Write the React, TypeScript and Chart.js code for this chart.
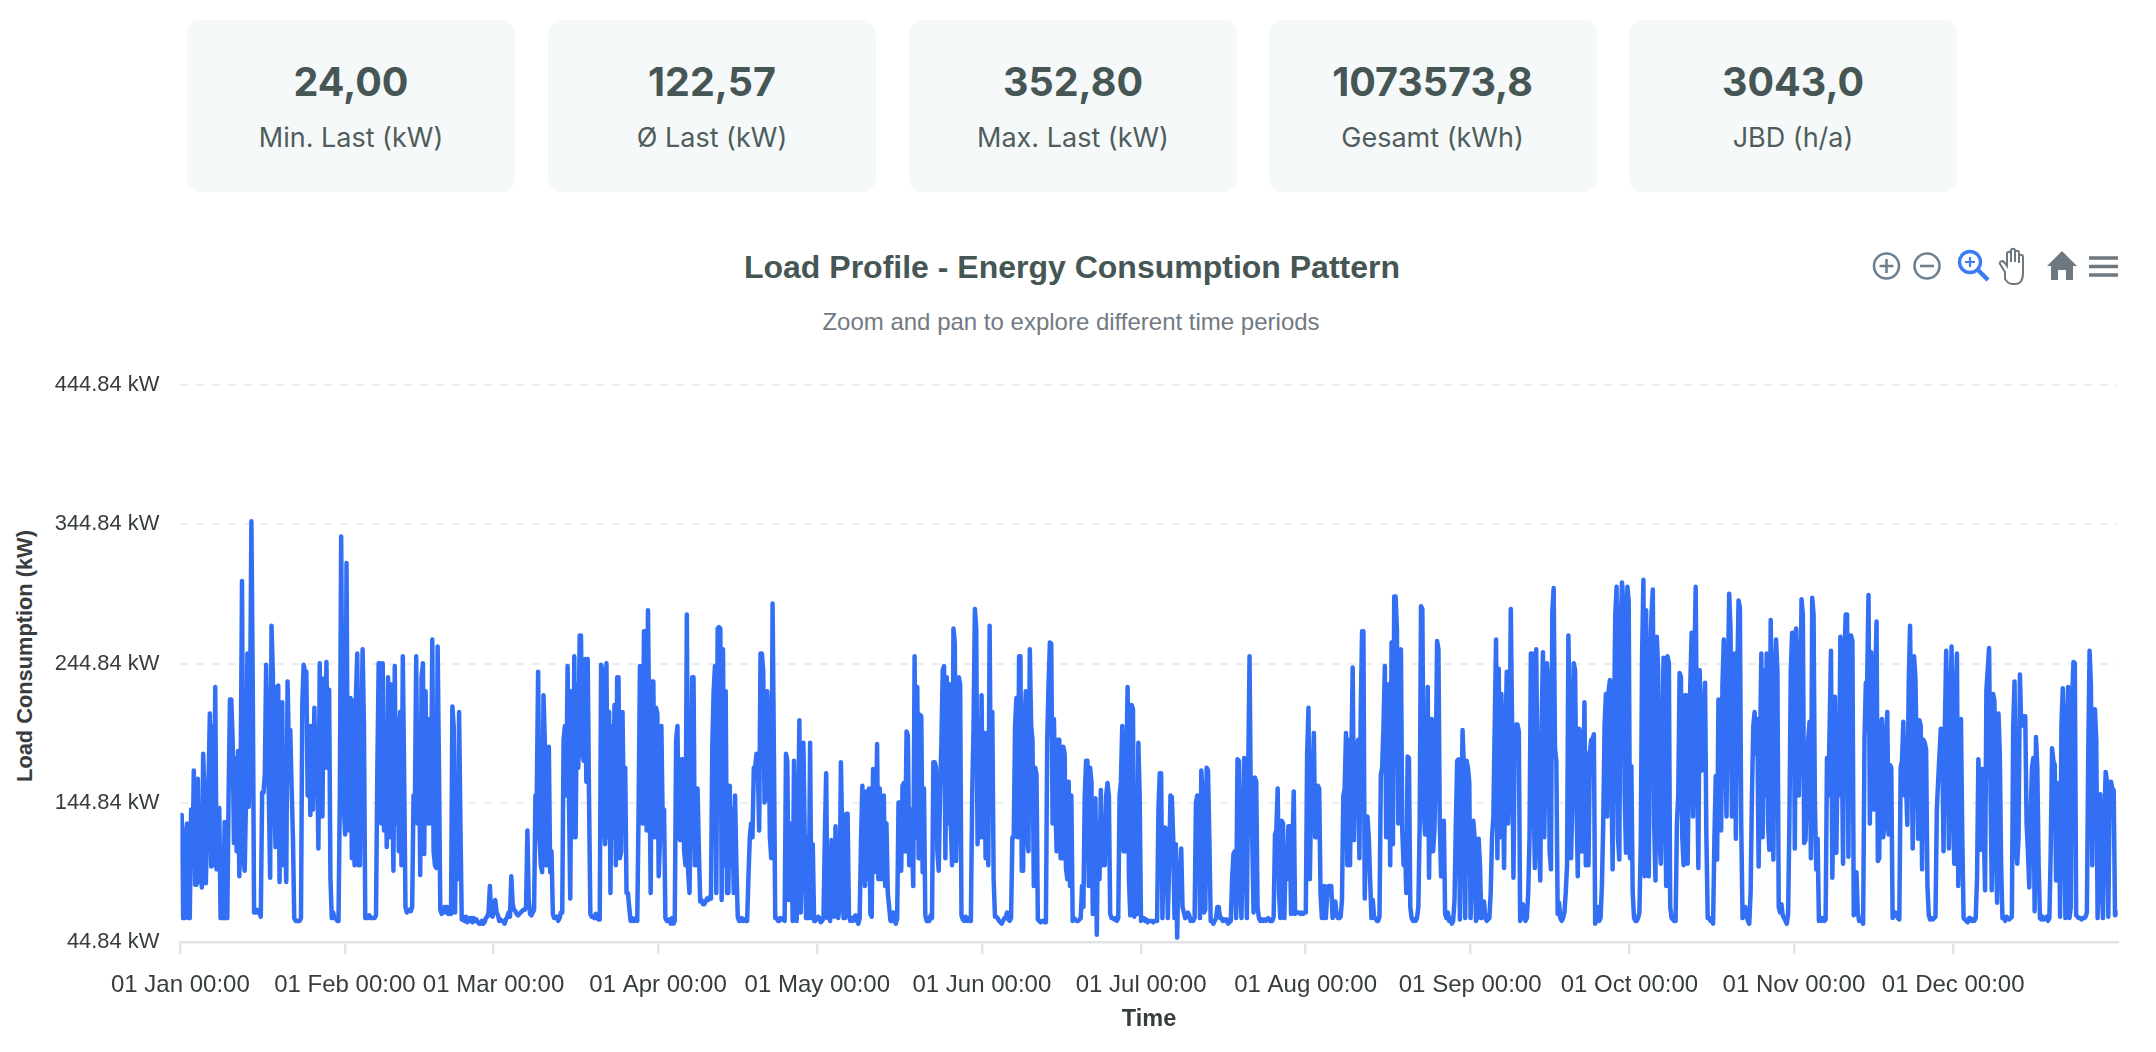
import React, { useEffect, useRef } from "react";
import { Chart, registerables } from "chart.js";

Chart.register(...registerables);

const kpiValues = ["24,00", "122,57", "352,80", "1073573,8", "3043,0"];
const kpiLabels = ["Min. Last (kW)", "Ø Last (kW)", "Max. Last (kW)", "Gesamt (kWh)", "JBD (h/a)"];

const yTickValues = [44.84, 144.84, 244.84, 344.84, 444.84];
const monthStartDays = [0, 31, 59, 90, 120, 151, 181, 212, 243, 273, 304, 334];
const monthLabels = ["01 Jan 00:00", "01 Feb 00:00", "01 Mar 00:00", "01 Apr 00:00", "01 May 00:00", "01 Jun 00:00", "01 Jul 00:00", "01 Aug 00:00", "01 Sep 00:00", "01 Oct 00:00", "01 Nov 00:00", "01 Dec 00:00"];

const week00 = [118,136,62,62,122,130,62,62,140,100,168,86,86,162,88,139,84,180,150,87,130,160,209,99,200,100,228,97];
const week01 = [97,141,62,62,62,131,62,62,152,219,219,190,116,177,110,182,92,170,304,104,96,150,252,142,214,347,230,66];
const week02 = [66,68,66,66,63,152,152,165,244,190,150,91,272,238,150,113,228,229,88,190,217,100,130,88,232,180,197,156];
const week03 = [120,62,60,60,60,60,62,217,244,239,239,150,200,136,200,140,213,152,190,112,245,140,135,234,170,246,170,226];
const week04 = [90,62,66,62,62,60,60,150,336,180,140,122,317,130,125,220,105,218,100,220,252,100,100,190,255,200,62,62];
const week05 = [62,64,62,62,62,62,64,170,245,245,130,245,125,200,113,235,120,230,170,96,243,130,205,110,210,100,250,165];
const week06 = [70,66,67,68,67,70,150,140,250,130,200,93,235,245,108,225,140,130,205,130,262,110,100,98,257,170,68,65];
const week07 = [67,70,66,70,65,68,65,214,200,66,150,90,210,130,61,61,60,63,59,62,60,62,59,62,60,61,59,58];
const week08 = [58,60,58,59,62,63,66,85,64,63,70,75,66,64,60,61,60,60,58,61,63,66,63,92,72,68,67,65];
const week09 = [64,65,66,67,68,68,70,125,75,65,64,66,68,150,150,239,120,100,95,222,190,100,100,185,95,110,65,62];
const week10 = [62,63,60,62,66,66,190,200,150,243,150,76,225,120,250,120,230,170,265,265,180,175,248,160,248,150,65,63];
const week11 = [63,62,65,62,61,61,244,240,130,115,245,120,210,80,200,120,215,100,235,235,105,110,210,130,170,80,80,70];
const week12 = [60,62,60,60,62,60,140,243,160,130,268,268,125,283,190,80,232,232,120,213,209,92,120,200,130,140,62,60];
const week13 = [60,61,58,62,58,60,190,200,120,118,176,176,110,100,280,95,80,145,235,235,100,100,155,110,74,75,72,72];
const week14 = [74,76,75,77,76,185,225,243,80,270,271,270,75,255,100,225,80,80,157,100,140,80,150,100,63,60,60,62];
const week15 = [60,61,60,60,92,120,130,120,170,170,180,170,125,252,252,240,145,150,225,200,120,105,288,180,62,62,60,60];
const week16 = [62,61,62,60,180,175,75,120,130,60,175,110,60,120,204,66,120,188,120,62,120,62,188,62,115,60,60,62];
const week17 = [63,62,59,60,62,120,166,62,108,60,118,100,63,128,75,62,70,174,120,62,62,137,137,64,60,62,60,63];
const week18 = [64,60,58,62,116,157,110,85,153,90,155,65,63,169,95,110,187,90,155,90,90,150,85,130,80,70,60,60];
const week19 = [66,60,58,62,145,145,96,157,159,110,196,193,100,140,120,85,250,120,228,105,208,207,95,155,64,60,60,60];
const week20 = [64,62,174,174,170,110,96,150,187,240,243,105,235,130,230,130,100,270,260,103,150,235,230,64,61,60,63,60];
const week21 = [62,60,60,150,200,284,270,115,205,120,222,120,195,105,195,100,272,140,210,90,63,63,62,60,59,58,60,62];
const week22 = [62,66,61,60,62,120,120,200,220,120,250,250,96,96,200,225,120,110,255,200,190,85,170,165,61,60,59,60];
const week23 = [60,59,59,190,230,260,259,130,205,150,110,190,190,105,105,185,180,98,90,160,85,150,60,62,61,60,60,61];
const week24 = [62,85,70,150,175,175,85,170,160,65,147,148,50,130,90,154,100,110,100,150,159,150,65,62,62,61,62,60];
const week25 = [62,150,160,200,110,110,170,228,90,64,215,212,63,115,65,188,150,60,62,62,60,61,59,60,60,60,59,60];
const week26 = [60,60,140,166,166,62,120,127,125,62,100,150,149,120,62,115,48,100,90,112,70,66,62,63,66,64,60,61];
const week27 = [60,62,145,150,145,62,168,150,66,68,170,168,120,60,60,58,60,62,70,70,62,62,60,61,60,61,58,59];
const week28 = [60,90,108,110,62,176,175,80,62,120,177,125,62,165,250,140,120,66,163,160,70,62,60,61,60,61,60,61];
const week29 = [62,60,60,60,63,122,125,155,80,62,132,130,62,110,90,128,128,65,110,153,65,66,66,66,65,66,65,66];
const week30 = [66,180,213,90,150,155,195,120,120,157,155,80,62,62,85,62,80,85,85,85,62,74,74,64,62,62,63,75];
const week31 = [150,155,195,100,190,100,180,242,118,185,185,190,105,210,268,268,76,130,135,120,90,62,75,62,62,60,60,63];
const week32 = [165,170,200,243,120,200,230,100,260,115,293,293,270,130,250,255,125,100,120,80,178,177,70,62,60,61,60,62];
const week33 = [70,130,286,284,140,122,122,228,91,170,205,110,125,170,261,255,130,92,92,132,65,62,66,60,62,58,60,75];
const week34 = [130,175,176,61,120,197,170,62,175,170,160,62,100,132,120,60,62,119,100,62,63,74,62,60,61,62,80,120];
const week35 = [135,200,262,105,241,120,223,160,98,190,239,130,170,284,200,91,200,201,201,196,60,65,72,62,60,62,80,120];
const week36 = [252,252,150,98,255,150,120,89,200,253,120,185,245,230,110,97,282,299,184,175,65,73,62,60,62,66,80,100];
const week37 = [265,200,105,150,245,240,150,92,198,195,110,150,217,100,180,100,180,190,190,194,58,62,70,60,62,85,130,200];
const week38 = [223,135,225,233,180,97,200,280,300,120,104,270,303,288,150,109,300,290,105,171,80,62,60,60,62,66,115,250];
const week39 = [305,92,283,200,92,240,280,298,130,89,264,240,120,101,180,249,160,85,250,245,70,62,61,60,60,130,150,238];
const week40 = [235,120,100,222,222,101,178,230,267,135,240,300,180,98,240,200,168,190,231,120,62,62,60,62,58,120,164,104];
const week41 = [219,200,125,230,262,200,135,230,295,270,135,210,252,119,230,290,285,130,62,66,70,64,60,58,80,150,200,210];
const week42 = [180,205,99,180,252,120,240,150,252,130,111,276,200,104,230,262,240,70,66,72,64,62,60,58,65,135,240,267];
const week43 = [267,112,270,240,150,200,291,280,116,118,160,190,203,105,292,280,144,97,119,60,62,60,62,60,61,177,150,200];
const week44 = [254,91,150,221,109,180,150,264,200,101,250,280,280,106,265,265,261,64,66,95,66,60,61,60,58,190,231,232];
const week45 = [294,130,253,200,140,230,275,103,105,200,205,120,130,190,210,122,172,170,62,64,66,65,62,61,170,175,203,150];
const week46 = [160,129,230,272,200,112,250,235,180,119,204,200,97,190,188,183,85,64,61,62,61,62,63,140,161,180,198,190];
const week47 = [110,200,254,200,112,200,257,150,101,220,252,85,150,205,120,62,61,60,59,62,62,60,61,60,62,90,176,140];
const week48 = [111,169,130,82,226,240,256,160,82,223,218,120,73,209,180,100,62,63,60,63,62,61,62,63,200,232,115,101];
const week49 = [120,237,200,207,207,207,130,110,84,135,170,177,67,192,170,100,62,61,63,61,62,63,60,62,110,184,175,172];
const week50 = [89,150,159,63,200,227,130,62,200,228,62,70,220,246,245,64,63,62,62,61,62,62,63,66,180,254,230,100];
const week51 = [212,212,190,62,120,151,90,62,130,167,160,63,150,160,155,154,64,65,66];

const weeks = [week00,week01,week02,week03,week04,week05,week06,week07,week08,week09,week10,week11,week12,week13,week14,week15,week16,week17,week18,week19,week20,week21,week22,week23,week24,week25,week26,week27,week28,week29,week30,week31,week32,week33,week34,week35,week36,week37,week38,week39,week40,week41,week42,week43,week44,week45,week46,week47,week48,week49,week50,week51];
const loadKw = weeks.flat();
const YEAR_DAYS = 365;

const SANS = '"Liberation Sans", Arial, sans-serif';
const CARD_FONT = 'Inter, "Liberation Sans", sans-serif';
const TITLE_COLOR = "#465654";
const TICK_COLOR = "#373d3f";
const ICON_GREY = "#6e8192";
const ICON_DARK = "#6e7881";

const cardLefts = [187, 548, 909, 1268.5, 1629];

function Toolbar() {
  return (
    <svg width={260} height={50} style={{ position: "absolute", left: 1870, top: 241 }} viewBox="0 0 260 50">
      <g fill="none" stroke={ICON_GREY} strokeWidth={2.6}>
        <circle cx={16.5} cy={25} r={12.5} />
        <path d="M9.5 25h14M16.5 18v14" />
        <circle cx={57} cy={25} r={12.5} />
        <path d="M50 25h14" />
      </g>
      <g fill="none" stroke="#3b7cf6" strokeWidth={3.4}>
        <circle cx={100} cy={21} r={10.5} />
        <path d="M108 29l10 10" strokeWidth={4.4} />
        <path d="M95 21h10M100 16v10" strokeWidth={2.2} />
      </g>
      <path
        d="M135 31l-5-8c-1-2 2-4 4-2l3 4V13c0-3 4-3 4 0v8-11c0-3 4-3 4 0v11-9c0-3 4-3 4 0v10-6c0-3 4-3 4 0v16c0 7-3 11-8 11h-3c-3 0-5-2-7-5z"
        fill="#fff"
        stroke={ICON_DARK}
        strokeWidth={2}
      />
      <path d="M192 10l15 15h-4v14h-7v-10h-8v10h-7V25h-4z" fill={ICON_DARK} />
      <path d="M219 17h29M219 25.5h29M219 34h29" stroke={ICON_DARK} strokeWidth={3.6} />
    </svg>
  );
}

export default function App() {
  const ref = useRef<HTMLCanvasElement | null>(null);
  useEffect(() => {
    const canvas = ref.current;
    if (!canvas) return;
    const points = loadKw.map((y, i) => ({ x: (i / (loadKw.length - 1)) * YEAR_DAYS, y }));
    const chart = new Chart(canvas, {
      type: "line",
      data: {
        datasets: [
          {
            label: "Load Consumption (kW)",
            data: points,
            borderColor: "#336ff5",
            borderWidth: 4.5,
            pointRadius: 0,
            tension: 0,
            borderJoinStyle: "round",
            borderCapStyle: "round",
            fill: "start",
            backgroundColor: (c: any) => {
              const area = c.chart.chartArea;
              if (!area) return "transparent";
              const g = c.chart.ctx.createLinearGradient(0, area.bottom - 170, 0, area.bottom);
              g.addColorStop(0, "rgba(51,111,245,0)");
              g.addColorStop(0.3, "rgba(51,111,245,0.018)");
              g.addColorStop(0.75, "rgba(51,111,245,0.004)");
              g.addColorStop(1, "rgba(51,111,245,0)");
              return g;
            },
          },
        ],
      },
      options: {
        animation: false,
        responsive: false,
        devicePixelRatio: 1,
        layout: { padding: { top: 385, right: 38.3, left: 0, bottom: 0 } },
        plugins: { legend: { display: false }, tooltip: { enabled: false }, title: { display: false } },
        scales: {
          x: {
            type: "linear",
            min: 0,
            max: YEAR_DAYS,
            afterFit: (s: any) => { s.height = 110; },
            afterBuildTicks: (s: any) => { s.ticks = monthStartDays.map((value) => ({ value })); },
            grid: { drawOnChartArea: false, drawTicks: true, tickLength: 12, tickColor: "#e1e4e6", lineWidth: 2.5 },
            border: { display: true, color: "#e1e4e6", width: 2.5 },
            ticks: {
              autoSkip: false,
              maxRotation: 0,
              minRotation: 0,
              padding: 17,
              color: TICK_COLOR,
              font: { family: SANS, size: 24 },
              callback: (v: any) => monthLabels[monthStartDays.indexOf(Number(v))] ?? "",
            },
            title: {
              display: true,
              text: "Time",
              color: TICK_COLOR,
              font: { family: SANS, size: 23.5, weight: "bold" },
              padding: { top: 0, bottom: 18.5 },
            },
          },
          y: {
            type: "linear",
            min: yTickValues[0],
            max: yTickValues[yTickValues.length - 1],
            afterFit: (s: any) => { s.width = 180.4; },
            afterBuildTicks: (s: any) => { s.ticks = yTickValues.map((value) => ({ value })); },
            grid: { color: "#e9edf4", lineWidth: 2, drawTicks: false, tickLength: 0 },
            border: { display: false, dash: [8, 8] },
            ticks: {
              padding: 21,
              color: TICK_COLOR,
              font: { family: SANS, size: 21.9 },
              callback: (v: any) => `${Number(v).toFixed(2)} kW`,
            },
          },
        },
      },
    });
    return () => chart.destroy();
  }, []);

  return (
    <div style={{ position: "absolute", left: 0, top: 0, width: 2156, height: 1052, overflow: "hidden", background: "#fff" }}>
      {kpiValues.map((v, i) => (
        <div
          key={kpiLabels[i]}
          style={{ position: "absolute", left: cardLefts[i], top: 20, width: 328, height: 172, background: "#f6f9fa", borderRadius: 14, textAlign: "center" }}
        >
          <div style={{ position: "absolute", left: 0, right: 0, top: 37, lineHeight: "50px", fontFamily: CARD_FONT, fontWeight: 700, fontSize: 39.5, color: TITLE_COLOR }}>{v}</div>
          <div style={{ position: "absolute", left: 0, right: 0, top: 99, lineHeight: "38px", fontFamily: CARD_FONT, fontWeight: 400, fontSize: 27, color: "#4f5d5c" }}>{kpiLabels[i]}</div>
        </div>
      ))}
      <div style={{ position: "absolute", left: 0, width: 2144, top: 247, textAlign: "center", lineHeight: "40px", fontFamily: SANS, fontWeight: 700, fontSize: 32, color: TITLE_COLOR }}>
        Load Profile - Energy Consumption Pattern
      </div>
      <div style={{ position: "absolute", left: 0, width: 2142, top: 303.5, textAlign: "center", lineHeight: "36px", fontFamily: SANS, fontSize: 24, color: "#717a82" }}>
        Zoom and pan to explore different time periods
      </div>
      <Toolbar />
      <div style={{ position: "absolute", left: 25, top: 656, width: 0, height: 0 }}>
        <div style={{ position: "absolute", transform: "translate(-50%,-50%) rotate(-90deg)", whiteSpace: "nowrap", fontFamily: SANS, fontWeight: 700, fontSize: 21.8, color: TICK_COLOR }}>
          Load Consumption (kW)
        </div>
      </div>
      <canvas ref={ref} width={2156} height={1052} style={{ position: "absolute", left: 0, top: 0, width: 2156, height: 1052 }} />
    </div>
  );
}
